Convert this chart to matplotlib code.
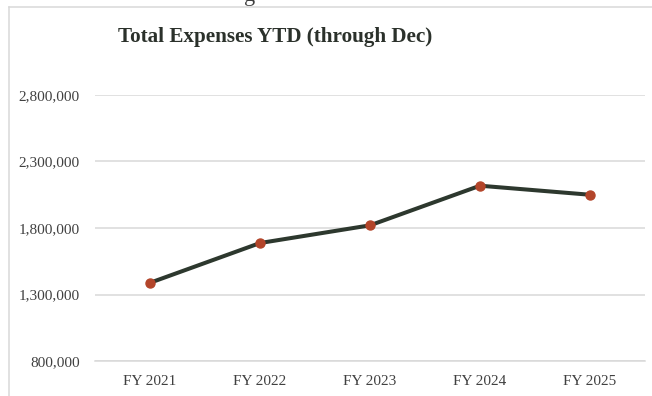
import matplotlib.pyplot as plt
from matplotlib.ticker import FuncFormatter
from matplotlib.lines import Line2D

# fiscal years and total expenses through December
years = ["FY 2021", "FY 2022", "FY 2023", "FY 2024", "FY 2025"]
expenses = [1388000, 1687000, 1820000, 2118000, 2050000]
y_ticks = [800000, 1300000, 1800000, 2300000, 2800000]

LINE_COLOR = "#2d382e"
MARKER_COLOR = "#b3452a"
TEXT_COLOR = "#404040"
GRID_COLOR = "#d9d9d9"

plt.rcParams['font.family'] = ['Liberation Serif', 'DejaVu Serif']

fig = plt.figure(figsize=(6.52, 3.96), dpi=100)
ax = fig.add_axes([95 / 652, 1 - 361 / 396, 550 / 652, 266 / 396])

x = range(len(years))
ax.plot(x, expenses, color=LINE_COLOR, lw=2.9, solid_capstyle='round', zorder=3)
ax.plot(x, expenses, 'o', color=MARKER_COLOR, ms=6.5, zorder=4)

ax.set_xlim(-0.5, len(years) - 0.5)
ax.set_ylim(y_ticks[0], y_ticks[-1])
ax.set_xticks(list(x))
ax.set_xticklabels(years)
ax.set_yticks(y_ticks)
ax.yaxis.set_major_formatter(FuncFormatter(lambda v, p: f"{int(v):,}"))
ax.tick_params(length=0, labelsize=11, colors=TEXT_COLOR)
ax.tick_params(axis='x', pad=10)
ax.tick_params(axis='y', pad=11)
ax.grid(axis='y', color=GRID_COLOR, lw=1.1)
ax.set_axisbelow(True)
for s in ax.spines.values():
    s.set_visible(False)
ax.spines['bottom'].set_visible(True)
ax.spines['bottom'].set_color(GRID_COLOR)
ax.spines['bottom'].set_linewidth(1.1)

# chart frame (left and top edges)
fig.add_artist(Line2D([9 / 652, 9 / 652], [0, 1 - 6.5 / 396], color=GRID_COLOR, lw=1.1))
fig.add_artist(Line2D([9 / 652, 1], [1 - 6.5 / 396, 1 - 6.5 / 396], color=GRID_COLOR, lw=1.1))

# descender of the heading above the chart
fig.text(250 / 652, 1 - 1 / 396, "g", ha='center', va='baseline', fontsize=16,
         color=TEXT_COLOR)

fig.text(275 / 652, 1 - 37 / 396, "Total Expenses YTD (through Dec)", ha='center',
         va='center', fontsize=15.2, fontweight='bold', color="#2b312b")

fig.savefig("out.png", dpi=100)
